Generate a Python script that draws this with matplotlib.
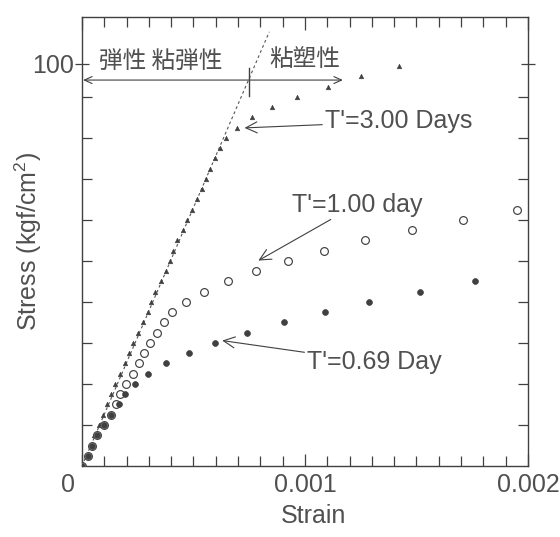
import matplotlib
matplotlib.use('Agg')
import matplotlib.pyplot as plt
import matplotlib.transforms as mtransforms
from matplotlib.ticker import FixedLocator, FixedFormatter, NullFormatter

plt.rcParams['font.family'] = ['Liberation Sans', 'Noto Sans CJK JP', 'DejaVu Sans']
plt.rcParams['mathtext.fontset'] = 'custom'
plt.rcParams['mathtext.rm'] = 'Liberation Sans'
plt.rcParams['mathtext.it'] = 'Liberation Sans:italic'

# ---------------- data ----------------
# stress levels (kgf/cm^2), loading steps
stress_levels = [0, 2.6, 5.1, 7.6, 10.2, 12.7, 15.3, 17.8, 20.4, 22.9,
                 25.5, 28.0, 30.6, 33.1, 35.7, 38.2, 40.8, 43.3, 45.9, 48.4,
                 51.0, 53.5, 56.1, 58.6, 61.2, 63.7, 66.3, 68.8, 71.4, 73.9,
                 76.5, 79.0, 81.6, 84.1, 86.7, 89.2, 91.8, 94.3, 96.9, 99.4]

# T'=0.69 Day (filled dots)
strain_069 = [0, 0.0000258, 0.0000471, 0.0000686, 0.0000991, 0.000130,
              0.000164, 0.000195, 0.000239, 0.000296, 0.000375, 0.000478,
              0.000598, 0.000740, 0.000905, 0.001088, 0.001289, 0.001517,
              0.001763]
stress_069 = stress_levels[:len(strain_069)]

# T'=1.00 day (open circles)
strain_100 = [0, 0.0000258, 0.000047, 0.0000686, 0.000099, 0.000130,
              0.000151, 0.000172, 0.000198, 0.000229, 0.000254, 0.000280,
              0.000306, 0.000337, 0.000367, 0.000402, 0.000468, 0.000548,
              0.000654, 0.000779, 0.000922, 0.001087, 0.001270, 0.001480,
              0.001707, 0.001953]
stress_100 = stress_levels[:len(strain_100)]

# T'=3.00 Days (small triangles)
strain_300 = [0, 0.0000213, 0.0000427, 0.0000551, 0.0000765, 0.0000935,
              0.0001105, 0.000132, 0.000149, 0.000170, 0.000192, 0.000213,
              0.000230, 0.000251, 0.000273, 0.000294, 0.000311, 0.000328,
              0.000354, 0.000375, 0.000396, 0.000409, 0.000426, 0.000452,
              0.000473, 0.000495, 0.000516, 0.000538, 0.000555, 0.000572,
              0.000598, 0.000619, 0.000645, 0.000697, 0.000764, 0.000852,
              0.000964, 0.001102, 0.001249, 0.001423]
stress_300 = stress_levels[:len(strain_300)]

# elastic (dashed) line
elastic_strain = [0, 0.00084]
elastic_stress = [0, 108]

# region arrow and divider
region_arrow_y = 96
region_arrow_x = [0.000005, 0.00117]
divider_x = 0.000748
divider_y = [92, 99]

x_major = [0, 0.001, 0.002]
x_major_labels = ['0', '0.001', '0.002']
x_minor = [i * 0.0001 for i in range(1, 20)]
y_major = [100]
y_major_labels = ['100']
y_minor = [10.197 * k for k in range(1, 10)]

# ---------------- figure ----------------
INK = '#404040'
TXT = '#505050'
fig = plt.figure(figsize=(5.6, 5.37), dpi=100)
ax = fig.add_axes([0.1464, 0.1322, 0.7964, 0.837])
ax.set_xlim(0, 0.002)
ax.set_ylim(0, 111.8)

for s in ax.spines.values():
    s.set_color(INK)
    s.set_linewidth(1.0)

ax.plot(elastic_strain, elastic_stress, color='#555555', lw=0.8,
        dashes=(2.5, 2.5), zorder=2)
ax.plot(strain_300, stress_300, linestyle='none', marker='^', ms=3.3,
        mfc=INK, mec=INK, mew=0.4, zorder=3)
ax.plot(strain_100, stress_100, linestyle='none', marker='o', ms=5.6,
        mfc='white', mec=INK, mew=0.85, zorder=3)
ax.plot(strain_069, stress_069, linestyle='none', marker='o', ms=4.2,
        mfc=INK, mec=INK, mew=0.5, zorder=4)

# region arrows
ax.annotate('', xy=(region_arrow_x[0], region_arrow_y),
            xytext=(region_arrow_x[1], region_arrow_y),
            arrowprops=dict(arrowstyle='<->,head_length=0.55,head_width=0.25',
                            color=INK, lw=0.8, shrinkA=0, shrinkB=0))
ax.plot([divider_x, divider_x], divider_y, color=INK, lw=1.0)

ax.text(0.000076, 100.6, '弾性 粘弾性', fontsize=17, color=TXT,
        ha='left', va='center', family=['Noto Sans CJK JP'])
ax.text(0.00084, 101.2, '粘塑性', fontsize=17, color=TXT,
        ha='left', va='center', family=['Noto Sans CJK JP'])

arrow_kw = dict(arrowstyle='->,head_length=0.45,head_width=0.22',
                color=INK, lw=0.8, shrinkA=0, shrinkB=0)
ax.annotate("T'=3.00 Days", xy=(0.000729, 84.1), xytext=(0.00109, 85.7),
            fontsize=18, color=TXT, ha='left', va='center',
            arrowprops=arrow_kw)
ax.annotate("T'=1.00 day", xy=(0.000791, 51.1), xytext=(0.00094, 65.0),
            fontsize=18, color=TXT, ha='left', va='center',
            arrowprops=arrow_kw)
ax.annotate("T'=0.69 Day", xy=(0.000629, 31.2), xytext=(0.00101, 25.8),
            fontsize=18, color=TXT, ha='left', va='center',
            arrowprops=arrow_kw)

# ticks
ax.xaxis.set_major_locator(FixedLocator(x_major))
ax.xaxis.set_major_formatter(FixedFormatter(x_major_labels))
ax.xaxis.set_minor_locator(FixedLocator(x_minor))
ax.xaxis.set_minor_formatter(NullFormatter())
ax.yaxis.set_major_locator(FixedLocator(y_major))
ax.yaxis.set_major_formatter(FixedFormatter(y_major_labels))
ax.yaxis.set_minor_locator(FixedLocator(y_minor))
ax.yaxis.set_minor_formatter(NullFormatter())

ax.tick_params(axis='x', which='major', direction='in', length=9, width=0.9,
               top=True, bottom=True, color=INK, labelsize=18,
               labelcolor=TXT, pad=5)
ax.tick_params(axis='x', which='minor', direction='in', length=7, width=0.9,
               top=True, bottom=True, color=INK)
ax.tick_params(axis='y', which='major', direction='inout', length=10,
               width=0.9, left=True, right=True, color=INK, labelsize=18,
               labelcolor=TXT, pad=1)
ax.tick_params(axis='y', which='minor', direction='in', length=7, width=0.9,
               left=True, right=True, color=INK)

# shift the "0" label a bit to the left, as in the original
lbl0 = ax.get_xticklabels()[0]
lbl0.set_transform(lbl0.get_transform() +
                   mtransforms.ScaledTranslation(-14 / 100, 0, fig.dpi_scale_trans))

ax.set_xlabel('Strain', fontsize=18, color=TXT)
ax.set_ylabel('Stress (kgf/cm$^2$)', fontsize=18, color=TXT)
ax.xaxis.set_label_coords(0.52, -0.085)
ax.yaxis.set_label_coords(-0.085, 0.5)

fig.savefig('out.png', dpi=100)
